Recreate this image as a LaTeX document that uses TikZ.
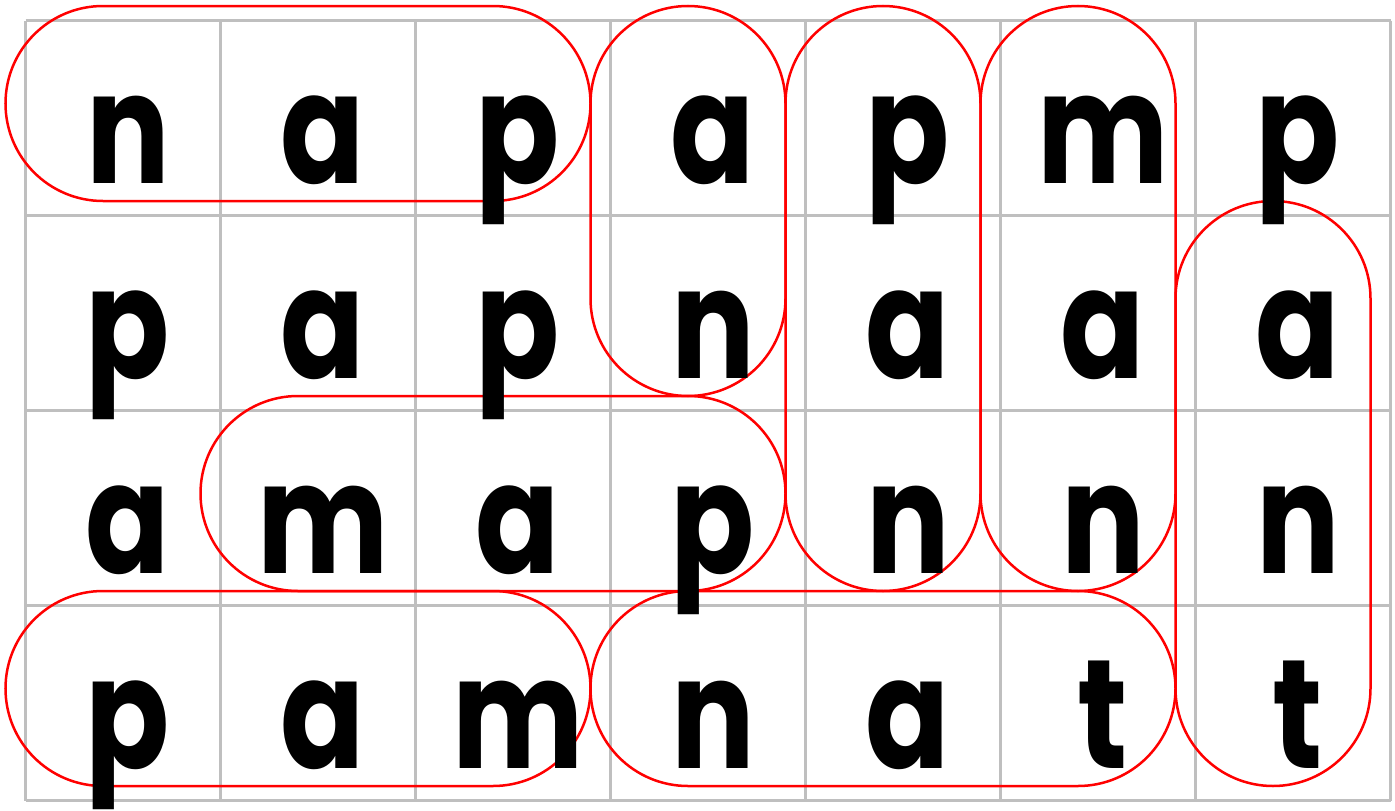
\documentclass[tikz,border=0pt]{standalone}
\usepackage{fontspec}
\setmainfont{Poppins}
\begin{document}
\begin{tikzpicture}[x=1pt,y=-1pt,
  gridline/.style={draw=black!25,line width=2.5pt},
  wordloop/.style={draw=red,line width=2.5pt,rounded corners=97.5pt},
  letter/.style={anchor=base,inner sep=0pt,font=\fontsize{155}{155}\selectfont\bfseries,text=black}]
\useasboundingbox (0,0) rectangle (1395,811);
% grid
\foreach \i in {0,...,7} \draw[gridline] (25.5+195*\i,20.5) -- (25.5+195*\i,800.5);
\foreach \j in {0,...,4} \draw[gridline] (25.5,20.5+195*\j) -- (1390.5,20.5+195*\j);
% word loops
\draw[wordloop] (5.5,6) rectangle (590.5,201);
\draw[wordloop] (590.5,6) rectangle (785.5,396);
\draw[wordloop] (785.5,6) rectangle (980.5,591);
\draw[wordloop] (980.5,6) rectangle (1175.5,591);
\draw[wordloop] (1175.5,201) rectangle (1370.5,786);
\draw[wordloop] (200.5,396) rectangle (785.5,591);
\draw[wordloop] (5.5,591) rectangle (590.5,786);
\draw[wordloop] (590.5,591) rectangle (1175.5,786);
% letters
\foreach \r/\row in {1/{n,a,p,a,p,m,p},2/{p,a,p,n,a,a,a},3/{a,m,a,p,n,n,n},4/{p,a,m,n,a,t,t}}{
  \foreach \ch [count=\c] in \row {
    \node[letter] (l\r\c) at (25.5+195*\c-97.5+5,20.5+195*\r-195+163) {\scalebox{0.8}[1]{\ch}};
  }
}
\end{tikzpicture}
\end{document}
